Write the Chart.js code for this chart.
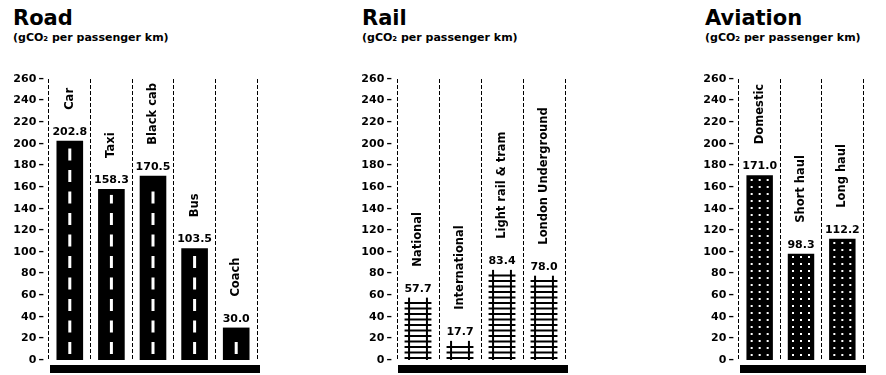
<!DOCTYPE html>
<html>
<head>
<meta charset="utf-8">
<script src="https://cdn.jsdelivr.net/npm/chart.js@4.4.0/dist/chart.umd.min.js"></script>
<style>
  body { margin: 0; background: #fff; width: 886px; height: 375px; position: relative; overflow: hidden; font-family: "DejaVu Sans", sans-serif; color: #000; }
  canvas { position: absolute; top: 0; }
  .title { position: absolute; top: 8px; font-size: 21px; line-height: 21px; font-weight: bold; }
  .sub { position: absolute; top: 32px; font-size: 11px; line-height: 12px; font-weight: bold; white-space: nowrap; }
</style>
</head>
<body>
<div class="title" style="left:13px">Road</div>
<div class="sub" style="left:13px">(gCO₂ per passenger km)</div>
<div class="title" style="left:362px">Rail</div>
<div class="sub" style="left:362px">(gCO₂ per passenger km)</div>
<div class="title" style="left:705px">Aviation</div>
<div class="sub" style="left:705px">(gCO₂ per passenger km)</div>

<canvas id="road-chart" width="300" height="375" style="left:0"></canvas>
<canvas id="rail-chart" width="230" height="375" style="left:348px"></canvas>
<canvas id="air-chart" width="196" height="375" style="left:690px"></canvas>

<script>
const roadLabels = ['Car', 'Taxi', 'Black cab', 'Bus', 'Coach'];
const roadValues = [202.8, 158.3, 170.5, 103.5, 30.0];

const railLabels = ['National', 'International', 'Light rail & tram', 'London Underground'];
const railValues = [57.7, 17.7, 83.4, 78.0];

const airLabels = ['Domestic', 'Short haul', 'Long haul'];
const airValues = [171.0, 98.3, 112.2];

const yMax = 260;
const yStep = 20;

const FONT = '"DejaVu Sans", sans-serif';

// white centre line markings on road bars
function drawRoad(ctx, x, y, base) {
    ctx.fillStyle = '#fff';
    for (let yy = base - 6; yy - y > 8; yy -= 21.5) {
        const top = Math.max(yy - 12, y + 6);
        ctx.fillRect(x - 1.5, top, 3, yy - top);
    }
}

// two rails with sleepers across them
function drawRail(ctx, x, y, base, w) {
    const half = w / 2;
    ctx.fillStyle = '#000';
    for (let yy = base - 2; yy > y + 3; yy -= 5.5) {
        ctx.fillRect(x - half, yy - 1, w, 2);
    }
    ctx.fillRect(x - half + 3.5, y, 2, base - y);
    ctx.fillRect(x + half - 5.5, y, 2, base - y);
}

// dotted fill for aviation bars
function drawAir(ctx, x, y, base) {
    ctx.fillStyle = '#fff';
    for (let yy = base - 5; yy > y + 3; yy -= 7) {
        [-8, 0, 8].forEach(dx => ctx.fillRect(x + dx - 1, yy - 1, 2, 2));
    }
}

const barArt = {
    id: 'barArt',
    beforeDatasetsDraw(chart) {
        const { ctx, chartArea: a } = chart;
        ctx.save();
        ctx.fillStyle = '#000';
        ctx.fillRect(a.left + 1, a.bottom + 5, a.right - a.left + 2, 8);
        ctx.restore();
    },
    afterDatasetsDraw(chart, args, opts) {
        const ctx = chart.ctx;
        const meta = chart.getDatasetMeta(0);
        const values = chart.data.datasets[0].data;
        ctx.save();
        meta.data.forEach((bar, i) => {
            const { x, y, base, width } = bar.getProps(['x', 'y', 'base', 'width'], true);
            if (opts.style === 'road') drawRoad(ctx, x, y, base);
            if (opts.style === 'rail') drawRail(ctx, x, y, base, width);
            if (opts.style === 'air') drawAir(ctx, x, y, base);

            ctx.fillStyle = '#000';
            ctx.font = 'bold 11px ' + FONT;
            ctx.textAlign = 'center';
            ctx.textBaseline = 'alphabetic';
            ctx.fillText(values[i].toFixed(1), x, y - 6);

            ctx.save();
            ctx.font = 'bold 11.5px ' + FONT;
            ctx.translate(x, y - 31);
            ctx.rotate(-Math.PI / 2);
            ctx.textAlign = 'left';
            ctx.textBaseline = 'middle';
            ctx.fillText(chart.data.labels[i], 0, 0);
            ctx.restore();
        });
        ctx.restore();
    }
};

function createPanel(id, labels, values, style, padRight) {
    const ctx = document.getElementById(id).getContext('2d');
    return new Chart(ctx, {
        type: 'bar',
        data: {
            labels: labels,
            datasets: [{
                data: values,
                backgroundColor: style === 'rail' ? 'rgba(0,0,0,0)' : '#000',
                borderWidth: 0,
                barPercentage: 0.64,
                categoryPercentage: 1
            }]
        },
        options: {
            responsive: false,
            maintainAspectRatio: false,
            animation: false,
            layout: { padding: { top: 79, right: padRight, bottom: 15, left: 0 } },
            plugins: {
                legend: { display: false },
                tooltip: { enabled: false },
                barArt: { style: style }
            },
            scales: {
                x: {
                    offset: true,
                    grid: { offset: true, color: '#000', lineWidth: 1, drawTicks: false },
                    border: { display: false, dash: [4, 2] },
                    ticks: { display: false },
                    afterFit: s => { s.height = 0; }
                },
                y: {
                    min: 0,
                    max: yMax,
                    grid: { display: false, drawTicks: false },
                    border: { display: false },
                    ticks: {
                        stepSize: yStep,
                        padding: 5,
                        color: '#000',
                        font: { family: FONT, size: 11, weight: 'bold' },
                        callback: v => v + '\u2009–'
                    },
                    afterFit: s => { s.width = 49; }
                }
            }
        },
        plugins: [barArt]
    });
}

createPanel('road-chart', roadLabels, roadValues, 'road', 43);
createPanel('rail-chart', railLabels, railValues, 'rail', 13);
createPanel('air-chart', airLabels, airValues, 'air', 23);
</script>
</body>
</html>
